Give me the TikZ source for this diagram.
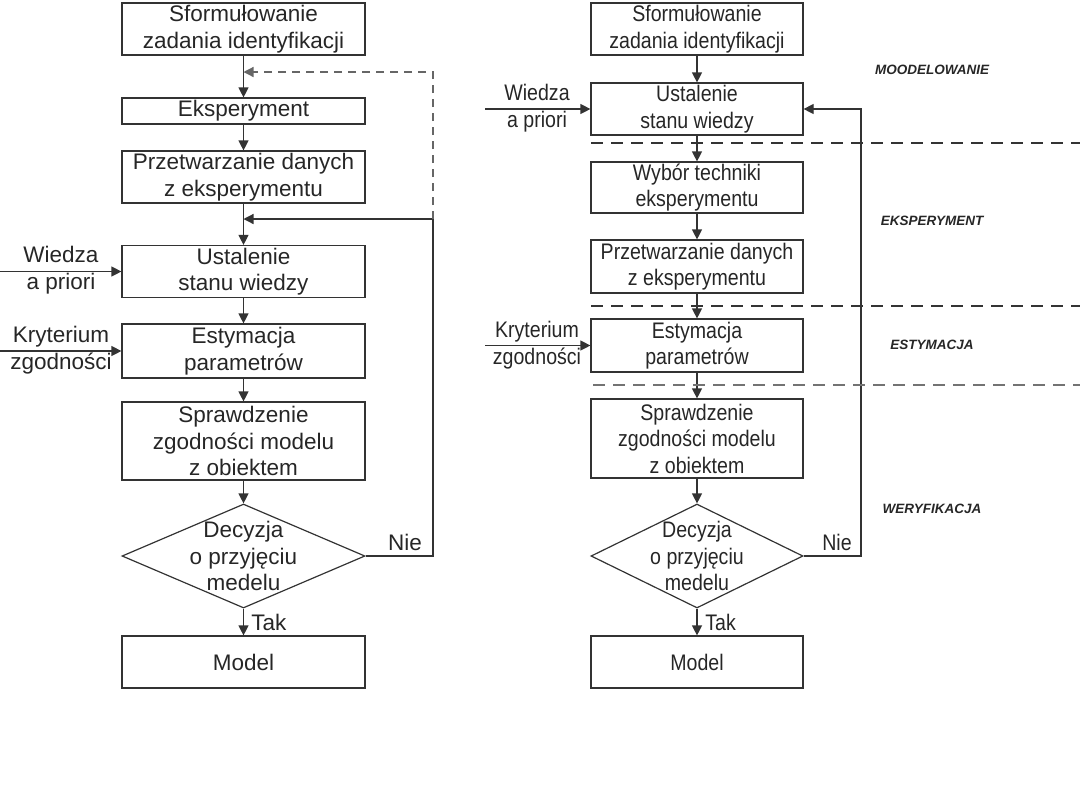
\documentclass[tikz,border=0pt]{standalone}
\usepackage{fontspec}
\setmainfont{Liberation Sans}
\newfontfamily\narrowfont[FakeStretch=0.87]{Liberation Sans}
\usetikzlibrary{shapes.geometric,arrows.meta}

\begin{document}
\begin{tikzpicture}[x=0.5pt,y=-0.5pt,
        font=\fontsize{11.25}{13.25}\selectfont, text=black!85,
        box/.style={draw=black!80, line width=0.6pt, inner sep=0pt, align=center},
        wbox/.style={box, minimum width=121.5pt},
        nbox/.style={box, minimum width=106pt},
        decision/.style={diamond, draw=black!80, line width=0.6pt, inner sep=0pt, minimum width=#1, minimum height=52pt},
        arr/.style={draw=black!80, line width=0.6pt, -{Triangle[length=5pt,width=5pt]}},
        sepline/.style={draw=black!80, line width=0.7pt, dash pattern=on 6pt off 4pt},
        phase/.style={font=\fontsize{6.75}{8}\selectfont\bfseries\itshape}]
        \useasboundingbox (0,0) rectangle (1080,810);
        % left scheme
        \node[wbox, minimum height=26pt] (s1) at (243.5,29) {Sformułowanie\\zadania identyfikacji};
        \node[wbox, minimum height=13pt] (e1) at (243.5,111) {Eksperyment};
        \node[wbox, minimum height=26pt] (p1) at (243.5,177) {Przetwarzanie danych\\z eksperymentu};
        \node[wbox, minimum height=26pt] (u1) at (243.5,271.5) {Ustalenie\\stanu wiedzy};
        \node[wbox, minimum height=27pt] (t1) at (243.5,351) {Estymacja\\parametrów};
        \node[wbox, minimum height=39pt] (v1) at (243.5,441) {Sprawdzenie\\zgodności modelu\\z obiektem};
        \node[decision=121.5pt] (d1) at (243.5,556) {};
        \node[align=center] at (d1) {Decyzja\\o przyjęciu\\medelu};
        \node[wbox, minimum height=26pt] (m1) at (243.5,662) {Model};
        \draw[arr] (s1) -- (e1); \draw[arr] (e1) -- (p1); \draw[arr] (p1) -- (u1);
        \draw[arr] (u1) -- (t1); \draw[arr] (t1) -- (v1); \draw[arr] (v1) -- (d1);
        \draw[arr] (d1) -- (m1);
        \coordinate (fbl) at (433,219);
        \coordinate (fbt) at (433,72);
        \draw[arr] (d1.east) -| (fbl) -- (p1 |- fbl);
        \draw[arr, draw=black!60, dash pattern=on 4pt off 3pt] (fbl) -- (fbt) -- (s1 |- fbt);
        \coordinate (wl) at (0,271.5); \coordinate (kl) at (0,351);
        \draw[arr] (wl) -- (u1.west); \draw[arr] (kl) -- (t1.west);
        \node[align=center] (wiedza1) at (61,270) {Wiedza\\a priori};
        \node[align=center] (kryt1) at (61,350) {Kryterium\\zgodności};
        \node (nie1) at (405,542) {Nie};
        \node[anchor=west, inner sep=0pt] (tak1) at (251,622) {Tak};
        % right scheme
        \begin{scope}[font=\fontsize{11.25}{13.25}\narrowfont]
        \node[nbox, minimum height=26pt] (s2) at (697,29) {Sformułowanie\\zadania identyfikacji};
        \node[nbox, minimum height=26pt] (u2) at (697,109) {Ustalenie\\stanu wiedzy};
        \node[nbox, minimum height=25.5pt] (w2) at (697,187.5) {Wybór techniki\\eksperymentu};
        \node[nbox, minimum height=26.5pt] (p2) at (697,266.5) {Przetwarzanie danych\\z eksperymentu};
        \node[nbox, minimum height=26.5pt] (t2) at (697,345.5) {Estymacja\\parametrów};
        \node[nbox, minimum height=39.5pt] (v2) at (697,438.5) {Sprawdzenie\\zgodności modelu\\z obiektem};
        \node[decision=106pt] (d2) at (697,556) {};
        \node[align=center] at (d2) {Decyzja\\o przyjęciu\\medelu};
        \node[nbox, minimum height=26pt] (m2) at (697,662) {Model};
        \draw[arr] (s2) -- (u2); \draw[arr] (u2) -- (w2); \draw[arr] (w2) -- (p2);
        \draw[arr] (p2) -- (t2); \draw[arr] (t2) -- (v2); \draw[arr] (v2) -- (d2);
        \draw[arr] (d2) -- (m2);
        \coordinate (fbr) at (861,109);
        \draw[arr] (d2.east) -| (fbr) -- (u2.east);
        \coordinate (wr) at (485,109); \coordinate (kr) at (485,345.5);
        \draw[arr] (wr) -- (u2.west); \draw[arr] (kr) -- (t2.west);
        \node[align=center] (wiedza2) at (537,108) {Wiedza\\a priori};
        \node[align=center] (kryt2) at (537,345) {Kryterium\\zgodności};
        \node (nie2) at (837,542) {Nie};
        \node[anchor=west, inner sep=0pt] (tak2) at (705,622) {Tak};
        \end{scope}
        \draw[sepline] (591,143) -- (1080,143);
        \draw[sepline] (591,306) -- (1080,306);
        \draw[sepline, draw=black!55] (593,385) -- (1080,385);
        \node[phase] (ph1) at (932,70) {MOODELOWANIE};
        \node[phase] (ph2) at (932,221) {EKSPERYMENT};
        \node[phase] (ph3) at (932,345) {ESTYMACJA};
        \node[phase] (ph4) at (932,509) {WERYFIKACJA};
    \end{tikzpicture}
\end{document}
